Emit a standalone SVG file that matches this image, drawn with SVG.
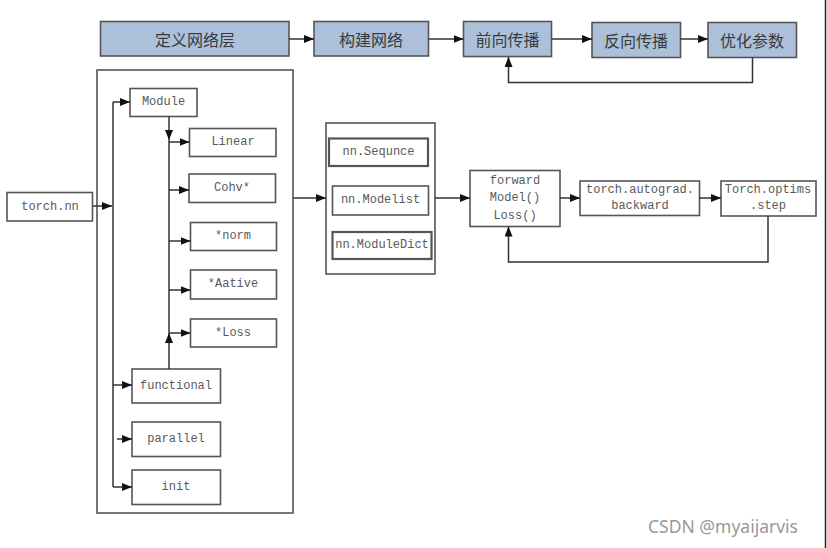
<svg xmlns="http://www.w3.org/2000/svg" width="827" height="548" viewBox="0 0 827 548">
<style>
.bg{fill:#ffffff}
.blue rect{fill:#adc0da;stroke:#555;stroke-width:1.6}
.blue text{font-family:"Noto Sans CJK SC","Noto Sans",sans-serif;font-size:16px;fill:#3a3a3a;text-anchor:middle;dominant-baseline:central}
.box rect{fill:#fff;stroke:#555;stroke-width:1.6}
.box text{font-family:"Liberation Mono","DejaVu Sans Mono",monospace;font-size:12px;fill:#5a5a5a;text-anchor:middle;dominant-baseline:central}
.cont{fill:none;stroke:#555;stroke-width:1.6}
.conn path{fill:none;stroke:#333;stroke-width:1.5}
.wm{font-family:"Noto Sans","Open Sans",sans-serif;font-size:17.5px;fill:#999}
</style>
<defs>
<marker id="ah" viewBox="0 0 10 8" refX="10" refY="4" markerWidth="10" markerHeight="8" markerUnits="userSpaceOnUse" orient="auto">
<path d="M0,0 L10,4 L0,8 Z" fill="#111"/>
</marker>
</defs>
<rect class="bg" x="0" y="0" width="827" height="548"/>

<g id="top-define" class="blue"><rect x="100.5" y="21.5" width="188.5" height="34.5"/><text x="195" y="39">定义网络层</text></g>
<g id="top-build" class="blue"><rect x="314" y="21.5" width="114.5" height="34.5"/><text x="371" y="39">构建网络</text></g>
<g id="top-forward" class="blue"><rect x="463.5" y="21.5" width="88" height="35"/><text x="507.5" y="39">前向传播</text></g>
<g id="top-backward" class="blue"><rect x="592" y="22.5" width="88.5" height="35"/><text x="636" y="40">反向传播</text></g>
<g id="top-optim" class="blue"><rect x="708" y="22.5" width="88.5" height="35"/><text x="752" y="40">优化参数</text></g>

<g id="nn-container"><rect class="cont" x="97" y="70" width="196" height="443"/></g>
<g id="torch-nn" class="box"><rect x="7" y="192.5" width="85.5" height="28.5"/><text x="50" y="207">torch.nn</text></g>
<g id="module" class="box"><rect x="130" y="88.5" width="67" height="28"/><text x="163.5" y="102">Module</text></g>
<g id="linear" class="box"><rect x="189.5" y="128.5" width="86.5" height="28"/><text x="233" y="142">Linear</text></g>
<g id="conv" class="box"><rect x="189" y="174" width="86.5" height="28.5"/><text x="232" y="188">Cohv*</text></g>
<g id="norm" class="box"><rect x="190.5" y="222.5" width="86" height="28"/><text x="233" y="236">*norm</text></g>
<g id="activ" class="box"><rect x="190.5" y="270" width="86" height="29"/><text x="233" y="284">*Aative</text></g>
<g id="loss" class="box"><rect x="190.5" y="319" width="86" height="28"/><text x="233" y="333">*Loss</text></g>
<g id="functional" class="box"><rect x="132" y="369" width="88.5" height="34"/><text x="176" y="386">functional</text></g>
<g id="parallel" class="box"><rect x="132" y="422" width="88.5" height="34.5"/><text x="176" y="439">parallel</text></g>
<g id="init" class="box"><rect x="132" y="470" width="88.5" height="34.5"/><text x="176" y="487">init</text></g>

<g id="container-group"><rect class="cont" x="326" y="123" width="109" height="151"/></g>
<g id="sequence" class="box"><rect x="329" y="138.5" width="99" height="27.5" style="stroke-width:2.2"/><text x="378.5" y="152">nn.Sequnce</text></g>
<g id="modulelist" class="box"><rect x="332.5" y="186" width="96" height="29"/><text x="380.5" y="200">nn.Modelist</text></g>
<g id="moduledict" class="box"><rect x="332.5" y="232" width="99" height="27" style="stroke-width:2.2"/><text x="382" y="245">nn.ModuleDict</text></g>

<g id="forward" class="box"><rect x="470" y="170.5" width="90" height="56"/><text x="515" y="181">forward</text><text x="515" y="198">Model()</text><text x="515" y="216">Loss()</text></g>
<g id="autograd" class="box"><rect x="580" y="181" width="119.5" height="34.5"/><text x="640" y="190">torch.autograd.</text><text x="640" y="206">backward</text></g>
<g id="optims" class="box"><rect x="721" y="181" width="95" height="35"/><text x="768" y="190">Torch.optims</text><text x="768" y="206">.step</text></g>

<g id="connectors" class="conn">
<path d="M289,39 H314" marker-end="url(#ah)"/>
<path d="M428.5,39 H463.5" marker-end="url(#ah)"/>
<path d="M551.5,39 H592" marker-end="url(#ah)"/>
<path d="M680.5,39 H708" marker-end="url(#ah)"/>
<path d="M752.5,57.5 V82.5 H508.5 V57" marker-end="url(#ah)"/>

<path d="M92.5,206 H112" marker-end="url(#ah)"/>
<path d="M113,102 V487"/>
<path d="M113,102 H130" marker-end="url(#ah)"/>
<path d="M169,116.5 V140" marker-end="url(#ah)"/>
<path d="M169,140 V333"/>
<path d="M169,369 V333" marker-end="url(#ah)"/>
<path d="M169,142 H189.5" marker-end="url(#ah)"/>
<path d="M169,190 H189" marker-end="url(#ah)"/>
<path d="M169,241 H190.5" marker-end="url(#ah)"/>
<path d="M169,290 H190.5" marker-end="url(#ah)"/>
<path d="M169,333 H190.5" marker-end="url(#ah)"/>
<path d="M113,385 H132" marker-end="url(#ah)"/>
<path d="M117,439 H132" marker-end="url(#ah)"/>
<path d="M113,487 H132" marker-end="url(#ah)"/>

<path d="M293,198 H326" marker-end="url(#ah)"/>
<path d="M435,198 H470" marker-end="url(#ah)"/>
<path d="M560,198 H580" marker-end="url(#ah)"/>
<path d="M699.5,198 H721" marker-end="url(#ah)"/>
<path d="M768,216 V262 H508.5 V226.5" marker-end="url(#ah)"/>
</g>

<path d="M825.5,0 V548" stroke="#222" stroke-width="1.5"/>
<text class="wm" x="648" y="533">CSDN @myaijarvis</text>
</svg>
